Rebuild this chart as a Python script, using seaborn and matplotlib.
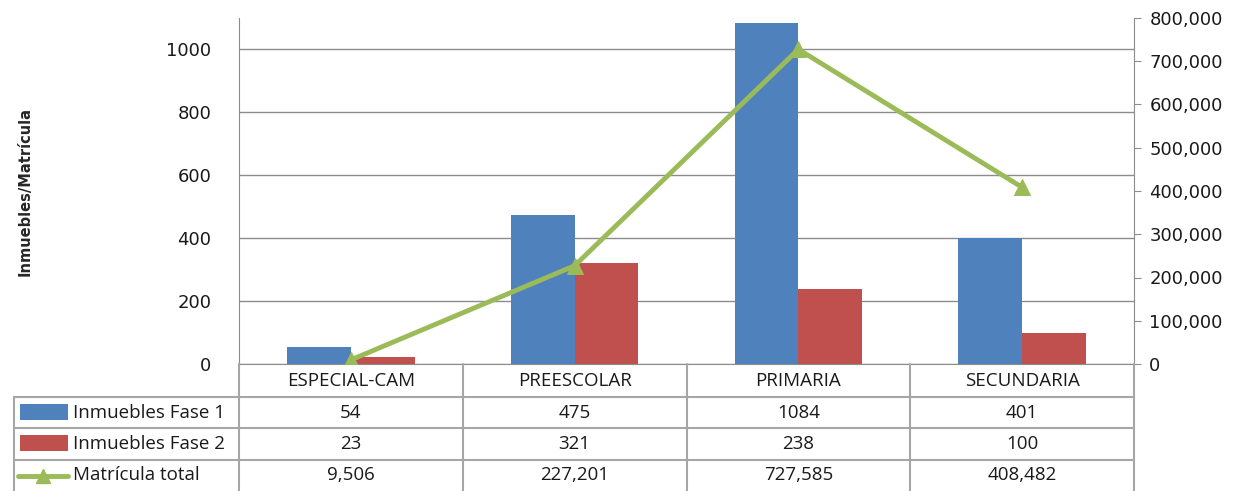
import matplotlib
matplotlib.use("Agg")
import matplotlib.pyplot as plt
import matplotlib.transforms as mtransforms
from matplotlib.lines import Line2D
from matplotlib.patches import Rectangle
from matplotlib.ticker import FuncFormatter
import seaborn as sns
import pandas as pd

# ---- data ----
niveles = ["ESPECIAL-CAM", "PREESCOLAR", "PRIMARIA", "SECUNDARIA"]
fase1 = [54, 475, 1084, 401]
fase2 = [23, 321, 238, 100]
matricula = [9506, 227201, 727585, 408482]
serie_names = ["Inmuebles Fase 1", "Inmuebles Fase 2", "Matrícula total"]

BLUE = "#4F81BD"
RED = "#C0504D"
GREEN = "#9BBB59"
GRID = "#8C8C8C"

sns.set_style("white")
plt.rcParams["font.family"] = ["DejaVu Sans"]

W, H = 1238, 491
fig = plt.figure(figsize=(W / 100, H / 100), dpi=100)

def fx(px):
    return px / W

def fy(py):
    return 1 - py / H

ax_l, ax_r, ax_t, ax_b = 239, 1134, 18, 364
ax = fig.add_axes([fx(ax_l), fy(ax_b), fx(ax_r) - fx(ax_l), fy(ax_t) - fy(ax_b)])

df = pd.DataFrame({
    "nivel": niveles * 2,
    "valor": fase1 + fase2,
    "serie": [serie_names[0]] * 4 + [serie_names[1]] * 4,
})
sns.barplot(data=df, x="nivel", y="valor", hue="serie", palette=[BLUE, RED],
            width=0.57, saturation=1, ax=ax, legend=False, errorbar=None,
            linewidth=0, edgecolor="none")
ax.set_xlim(-0.5, 3.5)
ax.set_ylim(0, 1100)
ax.set_yticks([0, 200, 400, 600, 800, 1000])
ax.grid(axis="y", color=GRID, lw=1)
ax.set_axisbelow(True)
ax.set_xlabel("")
ax.set_ylabel("Inmuebles/Matrícula", fontsize=10.5, fontweight="bold", labelpad=96)
ax.set_xticks([])
ax.tick_params(axis="y", length=0, labelsize=13, pad=20, labelcolor="#1a1a1a")
for s in ["top", "right"]:
    ax.spines[s].set_visible(False)
ax.spines["left"].set_color(GRID)
ax.spines["bottom"].set_color(GRID)

ax2 = ax.twinx()
sns.lineplot(x=list(range(len(niveles))), y=matricula, ax=ax2, color=GREEN,
             lw=3.5, marker="^", markersize=11, markeredgecolor=GREEN,
             markerfacecolor=GREEN, legend=False)
ax2.set_ylim(0, 800000)
ax2.set_yticks(range(0, 800001, 100000))
ax2.yaxis.set_major_formatter(FuncFormatter(lambda v, p: f"{int(v):,}"))
ax2.tick_params(axis="y", length=5, color=GRID, labelsize=13, pad=6,
                labelcolor="#1a1a1a")
ax2.set_ylabel("")
for s in ["top", "left", "bottom"]:
    ax2.spines[s].set_visible(False)
ax2.spines["right"].set_color(GRID)
ax2.grid(False)
ax.set_xlim(-0.5, 3.5)
ax2.set_xlim(-0.5, 3.5)

# ---- data table below ----
bt = mtransforms.blended_transform_factory(ax.transData, fig.transFigure)
ft = fig.transFigure
rows_y = [364, 397, 428, 460, 491]
LINE = "#A6A6A6"
tfont = dict(family=["Open Sans", "DejaVu Sans"], fontsize=13.5, color="#1a1a1a")

for y in rows_y[1:4]:
    fig.add_artist(Line2D([fx(14), fx(ax_r)], [fy(y), fy(y)], color=LINE, lw=1.5, transform=ft))
fig.add_artist(Line2D([fx(14), fx(14)], [fy(397), fy(491)], color=LINE, lw=1.5, transform=ft))
for xb in [-0.5, 0.5, 1.5, 2.5, 3.5]:
    fig.add_artist(Line2D([xb, xb], [fy(364), fy(491)], color=LINE, lw=1.5, transform=bt))

for i, n in enumerate(niveles):
    fig.text(i, fy((364 + 397) / 2), n, ha="center", va="center", transform=bt, **tfont)

row_vals = [fase1, fase2, [f"{m:,}" for m in matricula]]
for r in range(3):
    yc = fy((rows_y[r + 1] + rows_y[r + 2]) / 2)
    for i, v in enumerate(row_vals[r]):
        fig.text(i, yc, str(v), ha="center", va="center", transform=bt, **tfont)
    fig.text(fx(73), yc, serie_names[r], ha="left", va="center", transform=ft, **tfont)

for r, col in enumerate([BLUE, RED]):
    y0 = rows_y[r + 1]
    fig.add_artist(Rectangle((fx(20), fy(y0 + 23)), fx(68) - fx(20), fy(y0 + 7) - fy(y0 + 23),
                             facecolor=col, edgecolor="none", transform=ft))
yc = fy((460 + 491) / 2)
fig.add_artist(Line2D([fx(18), fx(68)], [yc, yc], color=GREEN, lw=3.5, transform=ft))
fig.add_artist(Line2D([fx(43)], [yc], color=GREEN, marker="^", markersize=10, transform=ft))

fig.savefig("out.png", dpi=100)
